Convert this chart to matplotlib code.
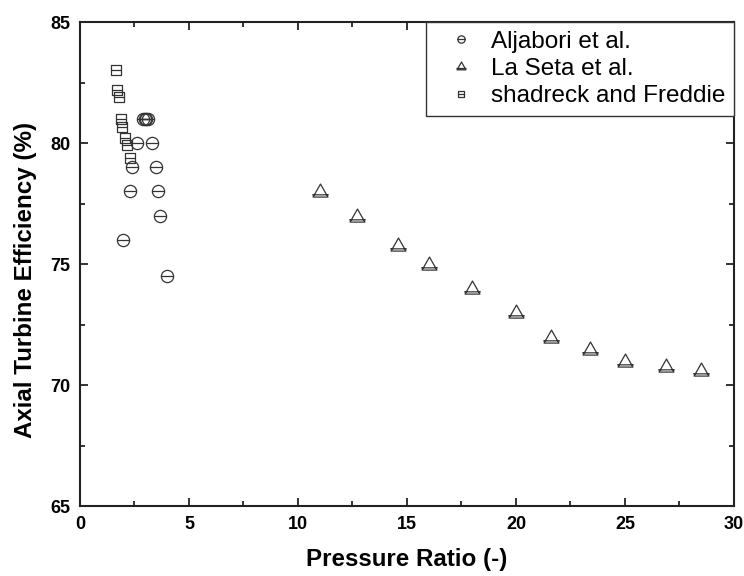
"""Axial turbine efficiency vs pressure ratio, three literature sources"""
import matplotlib
matplotlib.use("Agg")
import numpy as np
from matplotlib import pyplot as plt
from matplotlib.path import Path
from matplotlib.ticker import MultipleLocator

# Aljabori et al.
alj_pr = [2.9, 2.97, 3.03, 3.1, 2.6, 3.29, 2.37, 3.49, 2.29, 3.59, 3.67, 1.96, 4.0]
alj_eff = [81.0, 81.0, 81.0, 81.0, 80.0, 80.0, 79.0, 79.0, 78.0, 78.0, 77.0, 76.0, 74.5]

# La Seta et al.
seta_pr = [11.0, 12.7, 14.6, 16.0, 18.0, 20.0, 21.6, 23.4, 25.0, 26.9, 28.5]
seta_eff = [78.0, 77.0, 75.8, 75.0, 74.0, 73.0, 72.0, 71.5, 71.0, 70.8, 70.6]

# shadreck and Freddie
shad_pr = [1.64, 1.71, 1.79, 1.87, 1.94, 2.06, 2.17, 2.29]
shad_eff = [83.0, 82.2, 81.9, 81.0, 80.65, 80.2, 79.9, 79.4]


def marker_with_bar(verts, bar_y, bar_half):
    """outline shape + horizontal line across it"""
    shape = Path(verts + [verts[0]], [Path.MOVETO] + [Path.LINETO] * (len(verts) - 1) + [Path.CLOSEPOLY])
    bar = Path([(-bar_half, bar_y), (bar_half, bar_y)], [Path.MOVETO, Path.LINETO])
    return Path.make_compound_path(shape, bar)


circ = Path.make_compound_path(Path.unit_circle(),
                               Path([(-1, 0), (1, 0)], [Path.MOVETO, Path.LINETO]))
tri = marker_with_bar([(0, 1), (-1, -0.75), (1, -0.75)], -0.45, 1.12)
sq = marker_with_bar([(-1, -1), (1, -1), (1, 1), (-1, 1)], 0, 1)

col = '#333333'
fig = plt.figure(figsize=(7.44, 5.76), dpi=100)
ax = fig.add_axes([0.1075, 0.1215, 0.879, 0.8403])

style = dict(ls='none', mfc='none', mec=col, mew=0.9)
ax.plot(alj_pr, alj_eff, marker=circ, ms=8.8, label='Aljabori et al.', **style)
ax.plot(seta_pr, seta_eff, marker=tri, ms=12, label='La Seta et al.', **style)
ax.plot(shad_pr, shad_eff, marker=sq, ms=7.6, label='shadreck and Freddie', **style)

ax.set_xlim(0, 30)
ax.set_ylim(65, 85)
ax.xaxis.set_major_locator(MultipleLocator(5))
ax.xaxis.set_minor_locator(MultipleLocator(2.5))
ax.yaxis.set_major_locator(MultipleLocator(5))
ax.yaxis.set_minor_locator(MultipleLocator(2.5))
ax.tick_params(which='both', direction='in', top=True, right=True, width=1.3, color='#222222')
ax.tick_params(which='major', length=6, labelsize=13, pad=7)
ax.tick_params(which='minor', length=3.5)
for s in ax.spines.values():
    s.set_linewidth(1.5)
    s.set_color('#222222')

lab_font = dict(family=['Liberation Sans', 'DejaVu Sans'], weight='bold')
for t in ax.get_xticklabels() + ax.get_yticklabels():
    t.set_fontfamily(lab_font['family'])
    t.set_fontweight('bold')
ax.set_xlabel('Pressure Ratio (-)', fontsize=17.4, labelpad=11, **lab_font)
ax.set_ylabel('Axial Turbine Efficiency (%)', fontsize=17.4, **lab_font)
ax.yaxis.set_label_coords(-0.066, 0.467)

leg = ax.legend(loc='upper right', borderaxespad=0, fancybox=False, framealpha=1,
                edgecolor='#333333', markerscale=0.6, handletextpad=0.12,
                borderpad=0.35, labelspacing=0.22, handlelength=2.2,
                prop={'family': ['Liberation Sans', 'DejaVu Sans'], 'size': 17.5})
leg.get_frame().set_linewidth(1.0)

fig.savefig('out.png', dpi=100)
